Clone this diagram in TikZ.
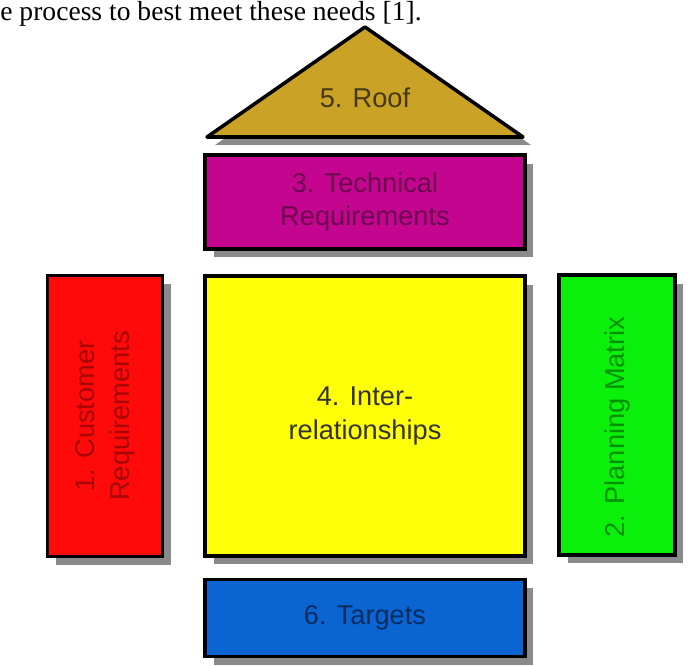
\documentclass[tikz,border=0pt]{standalone}
\usepackage{fontspec}
\setmainfont{Liberation Sans}
\newfontfamily\bodyserif{Liberation Serif}
\usetikzlibrary{shadows}
\definecolor{roofGold}{HTML}{C9A226}
\definecolor{techMagenta}{HTML}{C4058F}
\definecolor{custRed}{HTML}{FF0A0A}
\definecolor{interYellow}{HTML}{FFFF0A}
\definecolor{planGreen}{HTML}{0AF00A}
\definecolor{targBlue}{HTML}{0A64D2}
\definecolor{shadeGrey}{HTML}{8A8A8A}

\begin{document}
\begin{tikzpicture}[
    x=0.02cm, y=-0.02cm,
    hqfont/.style={font=\fontsize{15.5}{19}\selectfont},
    block/.style={draw=black, line width=2pt, align=center, inner sep=0pt, hqfont,
        drop shadow={shadow xshift=0.17cm, shadow yshift=-0.17cm, fill=shadeGrey, opacity=1}},
]
    \useasboundingbox (0,0) rectangle (698,666);
    \node[anchor=base west, inner sep=0pt, font=\bodyserif\fontsize{15.7}{19}\selectfont]
        (caption) at (0,20) {e process to best meet these needs [1].};

    % roof
    \filldraw[fill=roofGold, line width=2pt, line join=round,
        drop shadow={shadow xshift=0.16cm, shadow yshift=-0.16cm, fill=shadeGrey, opacity=1}]
        (207,137) -- (365,27) -- (523,137) -- cycle;
    \node[hqfont, text=roofGold!35!black] (roof) at (365,98) {5. Roof};

    \node[block, fill=techMagenta, text=techMagenta!55!black,
        minimum width=6.4cm, minimum height=1.88cm] (tech) at (365,202)
        {3. Technical\\Requirements};
    \node[block, fill=custRed, text=custRed!65!black,
        minimum width=2.3cm, minimum height=5.62cm] (cust) at (105,416)
        {\rotatebox{90}{\begin{tabular}{@{}c@{}}1. Customer\\[1pt]Requirements\end{tabular}}};
    \node[block, fill=interYellow, text=black!80,
        minimum width=6.4cm, minimum height=5.6cm] (inter) at (365,416)
        {4. Inter-\\relationships};
    \node[block, fill=planGreen, text=planGreen!60!black,
        minimum width=2.32cm, minimum height=5.6cm] (plan) at (617,415)
        {\rotatebox{90}{2. Planning Matrix\hspace{0.48cm}}};
    \node[block, fill=targBlue, text=targBlue!45!black,
        minimum width=6.4cm, minimum height=1.54cm] (targ) at (365,618)
        {6. Targets};
\end{tikzpicture}
\end{document}
